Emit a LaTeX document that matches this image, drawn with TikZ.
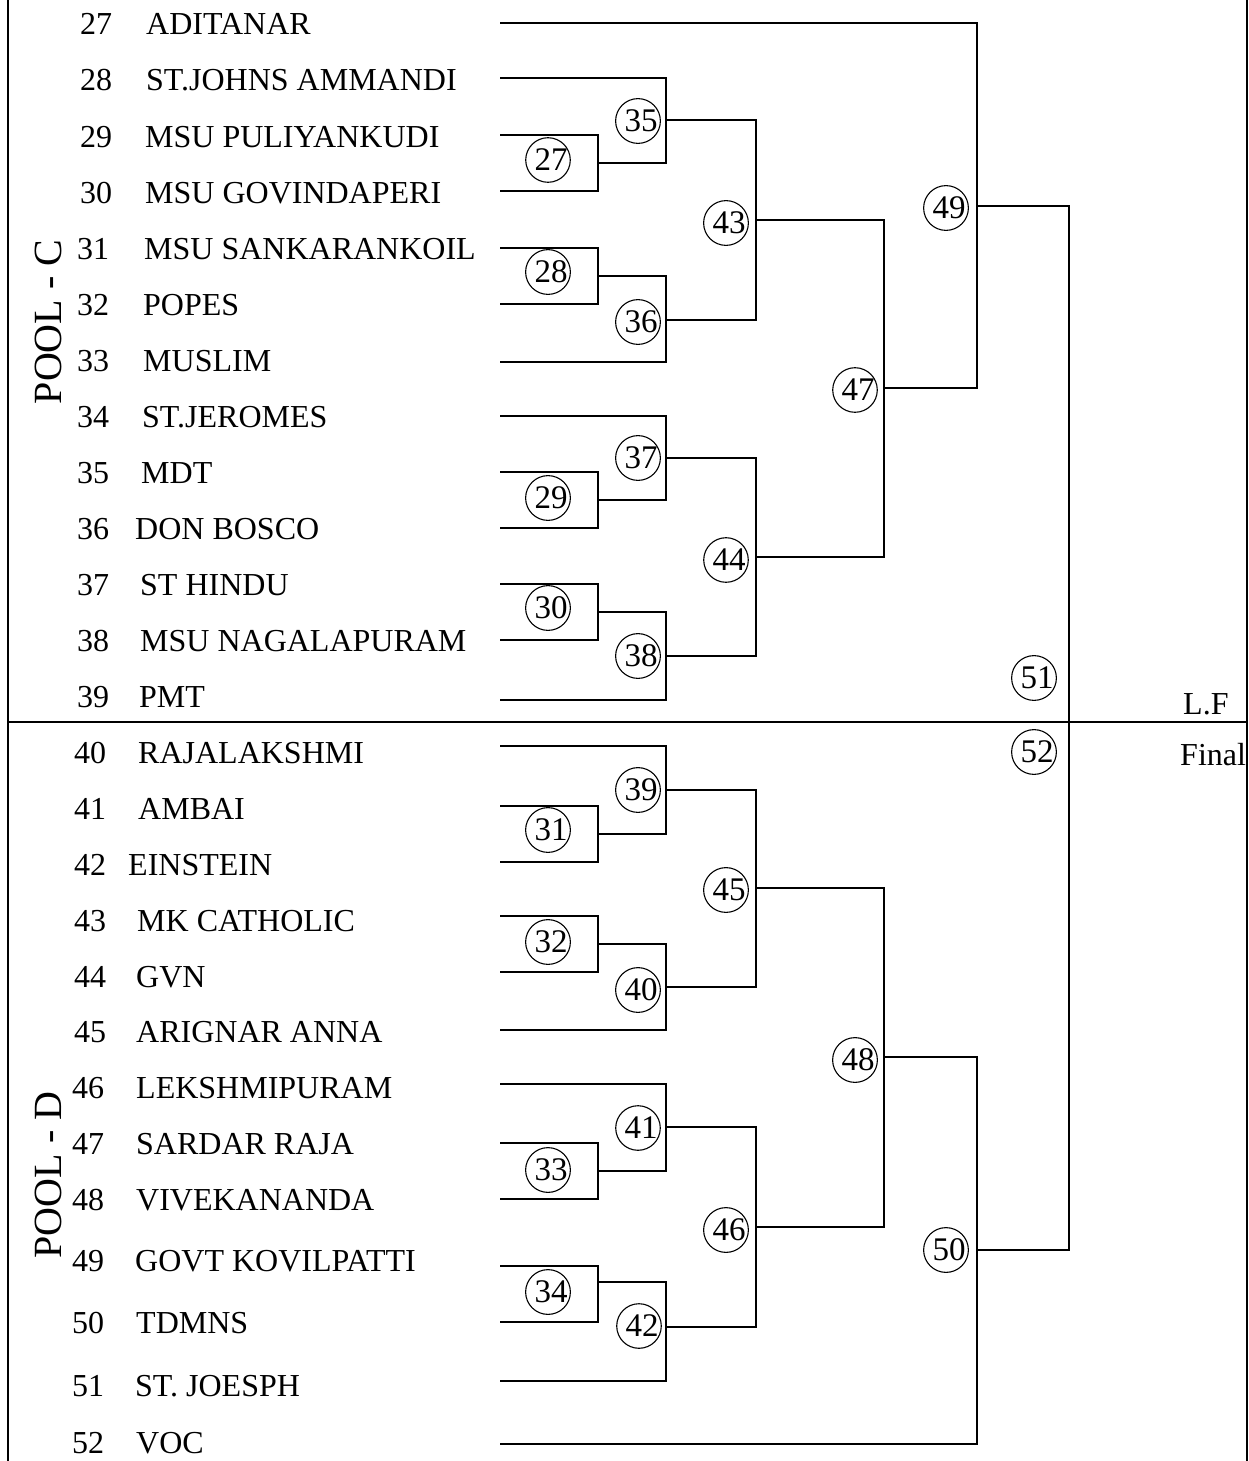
\documentclass[tikz,border=0pt]{standalone}
\usepackage{fontspec}
\setmainfont{Liberation Serif}
\begin{document}
\begin{tikzpicture}[x=1pt,y=-1pt,
  team/.style={anchor=base west, inner sep=0pt, font=\fontsize{32}{38}\selectfont},
  pool/.style={rotate=90, inner sep=0pt, font=\fontsize{40}{46}\selectfont},
  rnd/.style={circle, draw, line width=1.1pt, minimum size=39pt, inner sep=0pt, font=\fontsize{33}{38}\selectfont},
  link/.style={line width=1.6pt},
  frame/.style={line width=1.6pt}]
\useasboundingbox (0,0) rectangle (1248,1461);
% frame
\coordinate (bl1) at (8,0); \coordinate (bl2) at (8,1461);
\coordinate (br1) at (1247,0); \coordinate (br2) at (1247,1461);
\coordinate (hm1) at (8,722); \coordinate (hm2) at (1247,722);
\draw[frame] (bl1) -- (bl2);
\draw[frame] (br1) -- (br2);
\draw[frame] (hm1) -- (hm2);
% teams
\foreach \n/\nx/\mx/\ty/\ly/\name in {
 27/80/146/24/23/ADITANAR,
 28/80/146/80/78/ST.JOHNS AMMANDI,
 29/80/145/136/135/MSU PULIYANKUDI,
 30/80/145/192/191/MSU GOVINDAPERI,
 31/77/144/248/248/MSU SANKARANKOIL,
 32/77/143/304/304/POPES,
 33/77/143/360/362/MUSLIM,
 34/77/142/416/416/ST.JEROMES,
 35/77/141/472/472/MDT,
 36/77/135/528/528/DON BOSCO,
 37/77/140/584/584/ST HINDU,
 38/77/140/640/640/MSU NAGALAPURAM,
 39/77/139/696/700/PMT,
 40/74/138/752/746/RAJALAKSHMI,
 41/74/138/808/806/AMBAI,
 42/74/128/864/862/EINSTEIN,
 43/74/137/920/916/MK CATHOLIC,
 44/74/136/976/972/GVN,
 45/74/136/1031/1030/ARIGNAR ANNA,
 46/72/136/1087/1084/LEKSHMIPURAM,
 47/72/136/1143/1143/SARDAR RAJA,
 48/72/136/1199/1199/VIVEKANANDA,
 49/72/135/1260/1266/GOVT KOVILPATTI,
 50/72/136/1322/1322/TDMNS,
 51/72/135/1385/1381/ST. JOESPH,
 52/72/136/1442/1444/VOC}{
  \node[team] (num\n) at (\nx,\ty+11) {\n};
  \node[team] (name\n) at (\mx,\ty+11) {\name};
  \coordinate (t\n) at (500,\ly);
}
% junctions
\coordinate (m27) at (598,163);
\coordinate (m28) at (598,276);
\coordinate (m29) at (598,500);
\coordinate (m30) at (598,612);
\coordinate (m31) at (598,834);
\coordinate (m32) at (598,944);
\coordinate (m33) at (598,1171);
\coordinate (m34) at (598,1282);
\coordinate (m35) at (666,120);
\coordinate (m36) at (666,320);
\coordinate (m37) at (666,458);
\coordinate (m38) at (666,656);
\coordinate (m39) at (666,790);
\coordinate (m40) at (666,987);
\coordinate (m41) at (666,1127);
\coordinate (m42) at (666,1327);
\coordinate (m43) at (756,220);
\coordinate (m44) at (756,557);
\coordinate (m45) at (756,888);
\coordinate (m46) at (756,1227);
\coordinate (m47) at (884,388);
\coordinate (m48) at (884,1057);
\coordinate (m49) at (977,206);
\coordinate (m50) at (977,1250);
\coordinate (mf) at (1069,722);
% brackets
\foreach \a/\j/\b in {t29/m27/t30, t31/m28/t32, t35/m29/t36, t37/m30/t38,
  t41/m31/t42, t43/m32/t44, t47/m33/t48, t49/m34/t50,
  t28/m35/m27, m28/m36/t33, t34/m37/m29, m30/m38/t39,
  t40/m39/m31, m32/m40/t45, t46/m41/m33, m34/m42/t51,
  m35/m43/m36, m37/m44/m38, m39/m45/m40, m41/m46/m42,
  m43/m47/m44, m45/m48/m46, t27/m49/m47, m48/m50/t52, m49/mf/m50}{
  \draw[link] (\a) -| (\j) |- (\b);
}
% match numbers
\foreach \c/\x/\y in {27/548/160, 28/548/272, 29/548/498, 30/548/608,
  31/548/830, 32/548/942, 33/548/1170, 34/548/1292,
  35/638/121, 36/638/322, 37/638/458, 38/638/656,
  39/638/790, 40/638/990, 41/638/1128, 42/639/1326,
  43/726/223, 44/726/560, 45/726/890, 46/726/1230,
  47/855/390, 48/855/1060, 49/946/208, 50/946/1250,
  51/1034/678, 52/1034/752}{
  \node[rnd] (c\c) at (\x,\y) {\kern6pt\c};
}
% pool labels
\node[pool] (poolC) at (48,322) {POOL - C};
\node[pool] (poolD) at (48,1175) {POOL - D};
% stage labels
\node[team] (lf) at (1183,714) {L.F};
\node[team] (fin) at (1180,765) {Final};
\end{tikzpicture}
\end{document}
